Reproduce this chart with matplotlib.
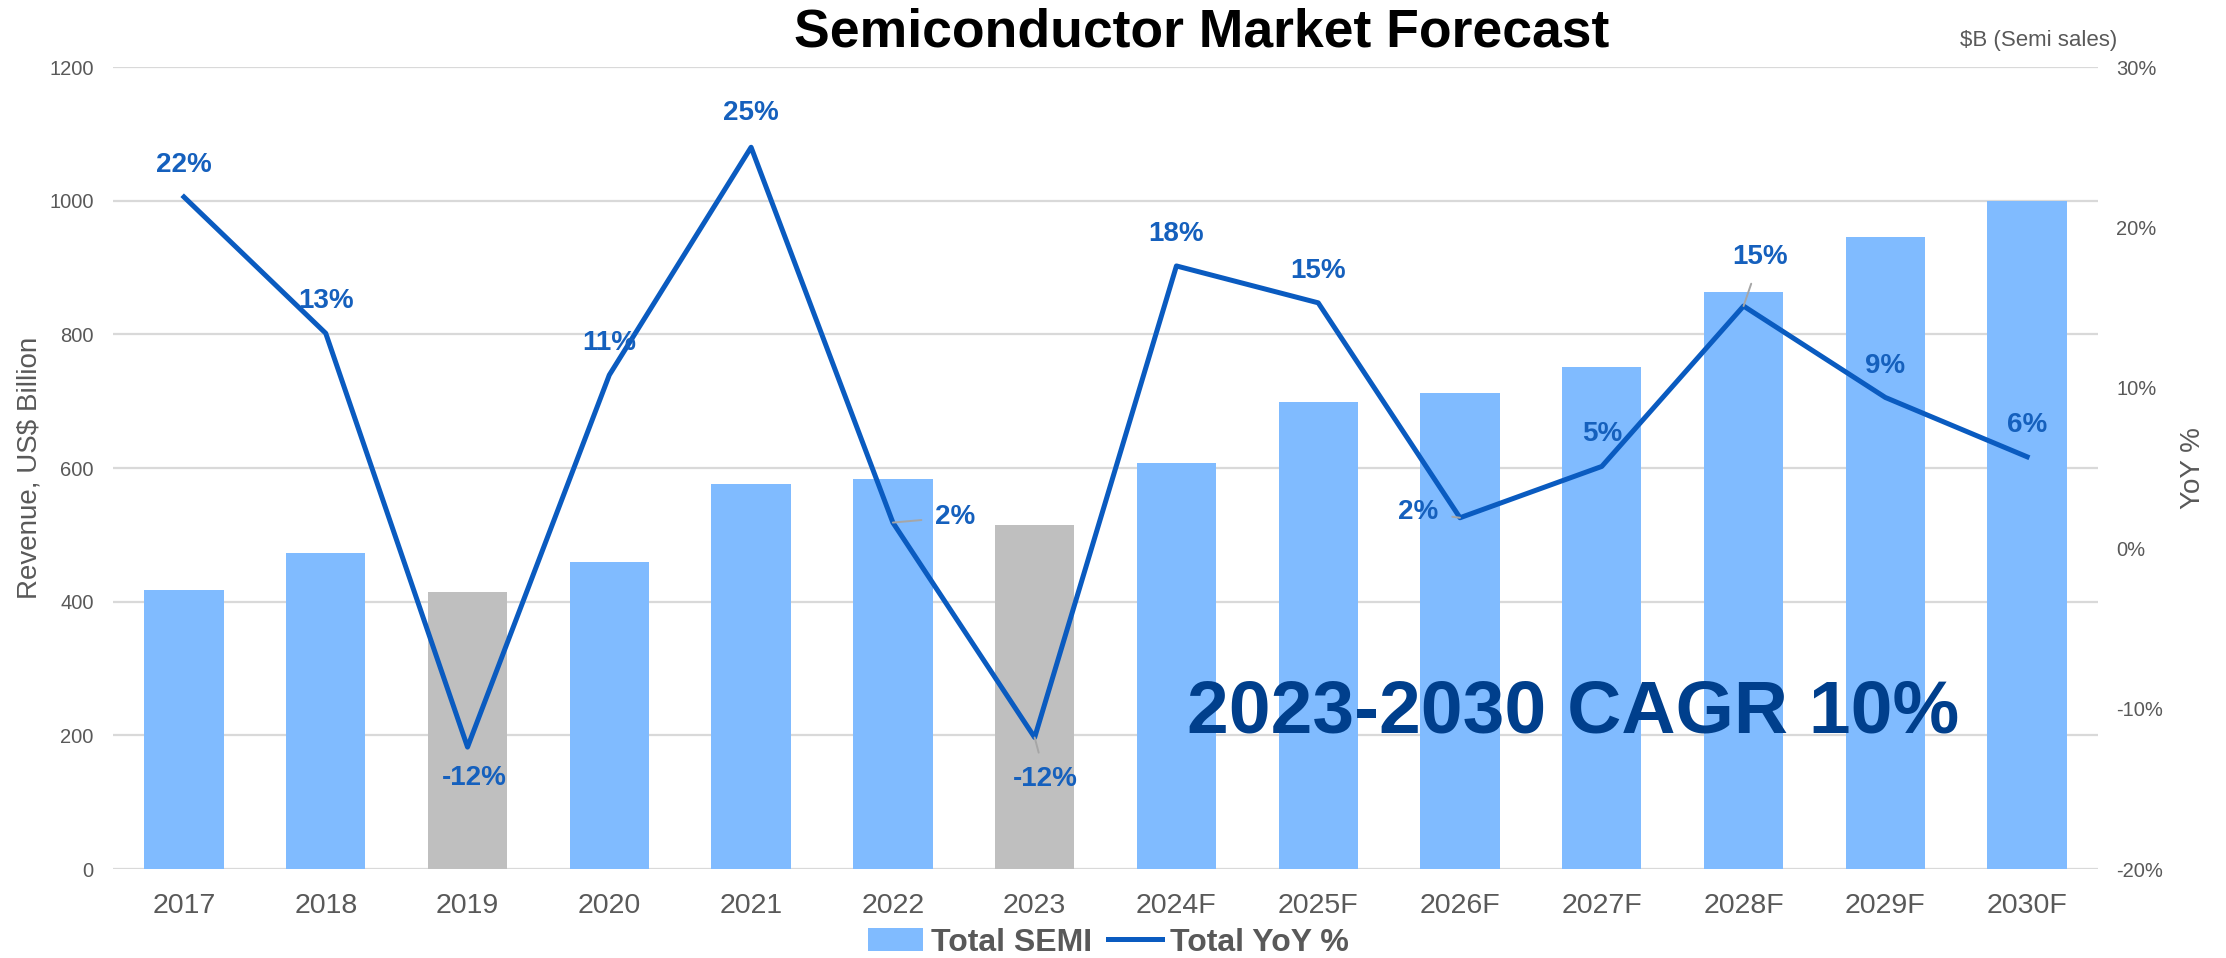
"""Semiconductor market forecast: revenue bars with YoY % line."""

import matplotlib

matplotlib.use("Agg")
import matplotlib.pyplot as plt

plt.rcParams["font.family"] = ["Liberation Sans", "DejaVu Sans"]

years = ["2017", "2018", "2019", "2020", "2021", "2022", "2023",
         "2024F", "2025F", "2026F", "2027F", "2028F", "2029F", "2030F"]
revenue = [418, 473, 415, 459, 576, 583, 515, 607, 699, 712, 751, 864, 945, 1000]
yoy = [21.9, 13.4, -12.4, 10.8, 25.0, 1.6, -11.8, 17.6, 15.3, 1.9, 5.1, 15.1, 9.4, 5.7]
down_years = ["2019", "2023"]

BLUE_BAR = "#80BBFF"
GRAY_BAR = "#BFBFBF"
LINE = "#0A5BC0"
LABEL = "#1560BD"
TICK = "#595959"

fig = plt.figure(figsize=(22.26, 9.58), dpi=100)
ax = fig.add_axes([0.0508, 0.0929, 0.8917, 0.8371])
ax2 = ax.twinx()

x = list(range(len(years)))
colors = [GRAY_BAR if y in down_years else BLUE_BAR for y in years]
ax.bar(x, revenue, width=0.56, color=colors, zorder=2, label="Total SEMI")

ax.set_xlim(-0.5, len(years) - 0.5)
ax.set_ylim(0, 1200)
ax.set_yticks(range(0, 1201, 200))
ax.set_xticks(x)
ax.set_xticklabels(years)
ax.grid(axis="y", color="#D9D9D9", linewidth=1.6, zorder=0)
ax.set_axisbelow(True)
ax.tick_params(axis="x", length=0, pad=17, labelsize=20.5, labelcolor=TICK)
ax.tick_params(axis="y", length=0, pad=14, labelsize=14.5, labelcolor=TICK)
for s in ax.spines.values():
    s.set_visible(False)
ax.set_ylabel("Revenue, US$ Billion", fontsize=20, color=TICK)
ax.yaxis.set_label_coords(-0.0355, 0.5)

ax2.plot(x, yoy, color=LINE, linewidth=3.6, zorder=3, label="Total YoY %")
ax2.set_ylim(-20, 30)
ax2.set_yticks(range(-20, 31, 10))
ax2.set_yticklabels([f"{v}%" for v in range(-20, 31, 10)])
ax2.tick_params(axis="y", length=0, pad=13, labelsize=14.5, labelcolor=TICK)
for s in ax2.spines.values():
    s.set_visible(False)
ax2.set_ylabel("YoY %", fontsize=20, color=TICK, rotation=90)
ax2.yaxis.set_label_coords(1.0415, 0.5)

# label offsets in points; leader lines where the label sits away from the point
offsets = {
    "2019": (5, -22), "2022": (45, 4), "2023": (8, -30),
    "2026F": (-30, 4), "2028F": (12, 35), "2021": (0, 25),
}
leaders = {"2022", "2023", "2026F", "2028F"}
for i, (yr, v) in enumerate(zip(years, yoy)):
    dx, dy = offsets.get(yr, (0, 23))
    arrow = dict(arrowstyle="-", color="#A6A6A6", lw=1.4, shrinkA=8, shrinkB=0) if yr in leaders else None
    ax2.annotate(f"{v:.0f}%", xy=(i, v), xytext=(dx, dy), textcoords="offset points",
                 ha="center", va="center", fontsize=20, fontweight="bold", color=LABEL,
                 arrowprops=arrow, zorder=4)

ax.text(9.8, 233, "2023-2030 CAGR 10%", ha="center", va="center",
        fontsize=54, fontweight="bold", color="#003F8C", zorder=5)

fig.text(0.54, 0.966, "Semiconductor Market Forecast", ha="center", va="center",
         fontsize=38.5, fontweight="bold", color="black")
fig.text(0.916, 0.958, "$B (Semi sales)", ha="center", va="center",
         fontsize=16, color=TICK)

h1, l1 = ax.get_legend_handles_labels()
h2, l2 = ax2.get_legend_handles_labels()
leg = fig.legend(h1 + h2, l1 + l2, loc="center", bbox_to_anchor=(0.498, 0.016),
                 ncol=2, frameon=False, handlelength=1.7, handletextpad=0.25,
                 columnspacing=0.5, prop={"size": 23, "weight": "bold"})
for t in leg.get_texts():
    t.set_color(TICK)

plt.savefig("out.png", dpi=100)
plt.close()
